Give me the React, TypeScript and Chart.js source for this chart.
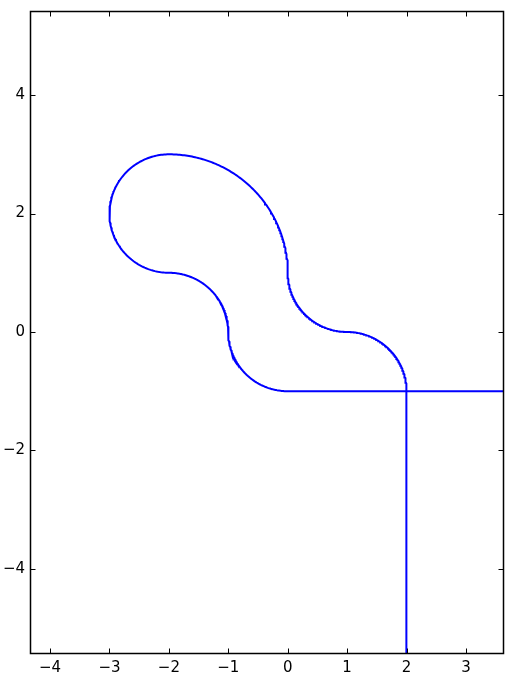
import React, { useEffect, useRef } from "react";
import { Chart, registerables } from "chart.js";

Chart.register(...registerables);

// Path: a vertical lead-in, six circular arcs, a horizontal lead-out
const startPoint = [2, -6];
const endPoint = [4, -1];
const arcCenterX = [1, 1, -2, -2, -2, 0];
const arcCenterY = [-1, 1, 1, 2, 0, 0];
const arcRadius = [1, 1, 2, 1, 1, 1];
const arcStartDeg = [0, 270, 0, 90, 90, 180];
const arcEndDeg = [90, 180, 90, 270, 0, 270];

const xTickValues = [-4, -3, -2, -1, 0, 1, 2, 3];
const yTickValues = [-4, -2, 0, 2, 4];
const xLimits = [-4.337, 3.623];
const yLimits = [-5.42, 5.42];

function buildPath() {
  const pts: { x: number; y: number }[] = [{ x: startPoint[0], y: startPoint[1] }];
  for (let i = 0; i < arcCenterX.length; i++) {
    const a0 = (arcStartDeg[i] * Math.PI) / 180;
    const a1 = (arcEndDeg[i] * Math.PI) / 180;
    const steps = 120;
    for (let k = 0; k <= steps; k++) {
      const a = a0 + ((a1 - a0) * k) / steps;
      pts.push({
        x: arcCenterX[i] + arcRadius[i] * Math.cos(a),
        y: arcCenterY[i] + arcRadius[i] * Math.sin(a),
      });
    }
  }
  pts.push({ x: endPoint[0], y: endPoint[1] });
  return pts;
}

const frame = {
  id: "frame",
  afterDraw(chart: any) {
    const { ctx, chartArea } = chart;
    const xs = chart.scales.x;
    const ys = chart.scales.y;
    const L = Math.round(chartArea.left) + 0.5;
    const R = Math.round(chartArea.right) + 0.5;
    const T = Math.round(chartArea.top) + 0.5;
    const B = Math.round(chartArea.bottom) + 0.5;
    ctx.save();
    ctx.strokeStyle = "#000";
    ctx.lineWidth = 1;
    ctx.beginPath();
    const len = 5;
    for (const v of xTickValues) {
      const px = Math.round(xs.getPixelForValue(v)) + 0.5;
      ctx.moveTo(px, B);
      ctx.lineTo(px, B - len);
      ctx.moveTo(px, T);
      ctx.lineTo(px, T + len);
    }
    for (const v of yTickValues) {
      const py = Math.round(ys.getPixelForValue(v)) + 0.5;
      ctx.moveTo(L, py);
      ctx.lineTo(L + len, py);
      ctx.moveTo(R, py);
      ctx.lineTo(R - len, py);
    }
    ctx.stroke();
    ctx.lineWidth = 1.5;
    ctx.strokeRect(L, T, R - L, B - T);
    ctx.restore();
  },
};

const fmt = (v: any) => String(v).replace("-", "\u2212");

const zeroPad = (s: any) => {
  s.paddingLeft = 0;
  s.paddingRight = 0;
  s.paddingTop = 0;
  s.paddingBottom = 0;
};

export default function App() {
  const ref = useRef<HTMLCanvasElement>(null);
  useEffect(() => {
    const chart = new Chart(ref.current!, {
      type: "line",
      data: {
        datasets: [
          {
            data: buildPath(),
            borderColor: "#0000ff",
            borderWidth: 2,
            pointRadius: 0,
            fill: false,
            tension: 0,
            clip: 0,
          } as any,
        ],
      },
      options: {
        animation: false,
        responsive: false,
        devicePixelRatio: 1,
        parsing: false,
        layout: { padding: { top: 11, right: 11, left: 0, bottom: 0 } },
        plugins: { legend: { display: false }, tooltip: { enabled: false } },
        scales: {
          x: {
            type: "linear",
            min: xLimits[0],
            max: xLimits[1],
            grid: { display: false, drawTicks: false, tickLength: 0 },
            border: { display: false },
            afterBuildTicks: (s: any) => {
              s.ticks = xTickValues.map((v) => ({ value: v }));
            },
            afterFit: (s: any) => {
              s.height = 29;
              zeroPad(s);
            },
            ticks: {
              callback: fmt,
              color: "#000",
              padding: 6,
              maxRotation: 0,
              autoSkip: false,
              font: { family: "DejaVu Sans", size: 15 },
            },
          },
          y: {
            type: "linear",
            min: yLimits[0],
            max: yLimits[1],
            grid: { display: false, drawTicks: false, tickLength: 0 },
            border: { display: false },
            afterBuildTicks: (s: any) => {
              s.ticks = yTickValues.map((v) => ({ value: v }));
            },
            afterFit: (s: any) => {
              s.width = 30;
              zeroPad(s);
            },
            ticks: {
              callback: fmt,
              color: "#000",
              padding: 5,
              autoSkip: false,
              font: { family: "DejaVu Sans", size: 15 },
            },
          },
        },
      },
      plugins: [frame],
    });
    return () => chart.destroy();
  }, []);
  return (
    <div style={{ position: "fixed", left: 0, top: 0, width: 514, height: 682, background: "#fff" }}>
      <canvas ref={ref} width={514} height={682} style={{ width: 514, height: 682, display: "block" }} />
    </div>
  );
}
